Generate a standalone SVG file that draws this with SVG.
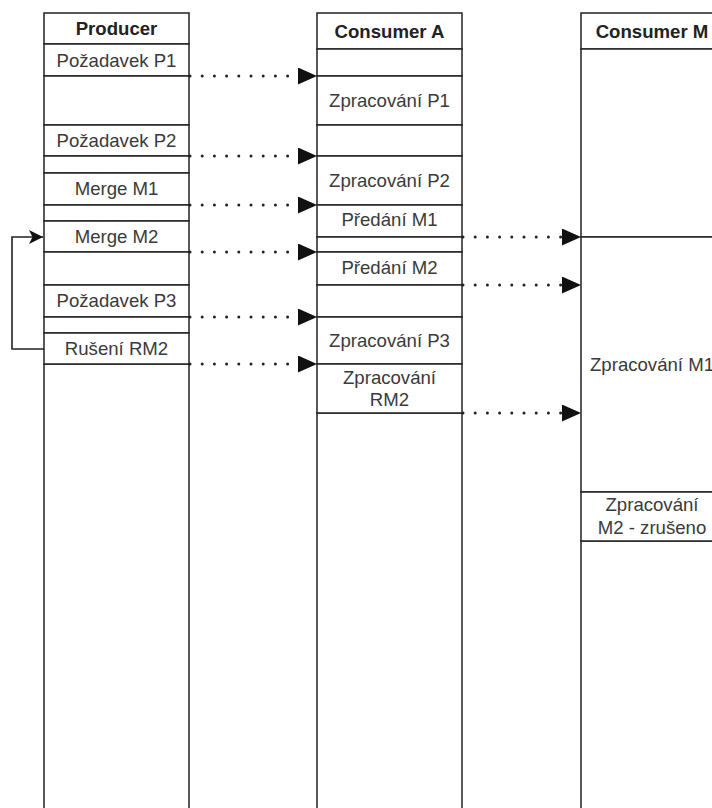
<svg xmlns="http://www.w3.org/2000/svg" width="712" height="808" viewBox="0 0 712 808">
  <style>
    .box { fill: #ffffff; stroke: #222222; stroke-width: 1.5; }
    .lbl { font-family: "Liberation Sans", Arial, sans-serif; font-size: 18.6px; fill: #3a3a3a; text-anchor: middle; }
    .hdr { font-weight: bold; fill: #222222; }
    .msg { fill: none; stroke: #222222; stroke-width: 3; stroke-linecap: round; stroke-dasharray: 0 12.2; }
    .loop { fill: none; stroke: #222222; stroke-width: 1.6; }
  </style>
  <defs>
    <marker id="tri" markerUnits="userSpaceOnUse" viewBox="0 0 19 17" refX="19" refY="8.5" markerWidth="19" markerHeight="17" orient="auto">
      <path d="M0,0 L19,8.5 L0,17 Z" fill="#111111"/>
    </marker>
    <marker id="classic" markerUnits="userSpaceOnUse" viewBox="0 0 15 14" refX="14" refY="7" markerWidth="15" markerHeight="14" orient="auto">
      <path d="M0,0 L14,7 L0,14 L3.5,7 Z" fill="#111111"/>
    </marker>
  </defs>
  <rect width="712" height="808" fill="#ffffff"/>

  <!-- Producer lane -->
  <g id="producer">
    <rect class="box" x="44" y="364" width="145" height="460"/>
    <rect class="box" x="44" y="13" width="145" height="31"/>
    <rect class="box" x="44" y="44" width="145" height="32"/>
    <rect class="box" x="44" y="76" width="145" height="49"/>
    <rect class="box" x="44" y="125" width="145" height="31"/>
    <rect class="box" x="44" y="156" width="145" height="17"/>
    <rect class="box" x="44" y="173" width="145" height="32"/>
    <rect class="box" x="44" y="205" width="145" height="16"/>
    <rect class="box" x="44" y="221" width="145" height="31"/>
    <rect class="box" x="44" y="252" width="145" height="33"/>
    <rect class="box" x="44" y="285" width="145" height="32"/>
    <rect class="box" x="44" y="317" width="145" height="16"/>
    <rect class="box" x="44" y="333" width="145" height="31"/>
    <text class="lbl hdr" x="116.5" y="35">Producer</text>
    <text class="lbl" x="116.5" y="66.5">Požadavek P1</text>
    <text class="lbl" x="116.5" y="147">Požadavek P2</text>
    <text class="lbl" x="116.5" y="195">Merge M1</text>
    <text class="lbl" x="116.5" y="242.5">Merge M2</text>
    <text class="lbl" x="116.5" y="307">Požadavek P3</text>
    <text class="lbl" x="116.5" y="354.5">Rušení RM2</text>
  </g>

  <!-- Consumer A lane -->
  <g id="consumer-a">
    <rect class="box" x="317" y="413" width="145" height="411"/>
    <rect class="box" x="317" y="13" width="145" height="36"/>
    <rect class="box" x="317" y="49" width="145" height="27"/>
    <rect class="box" x="317" y="76" width="145" height="49"/>
    <rect class="box" x="317" y="125" width="145" height="31"/>
    <rect class="box" x="317" y="156" width="145" height="49"/>
    <rect class="box" x="317" y="205" width="145" height="32"/>
    <rect class="box" x="317" y="237" width="145" height="15"/>
    <rect class="box" x="317" y="252" width="145" height="33"/>
    <rect class="box" x="317" y="285" width="145" height="32"/>
    <rect class="box" x="317" y="317" width="145" height="47"/>
    <rect class="box" x="317" y="364" width="145" height="49"/>
    <text class="lbl hdr" x="389.5" y="37.5">Consumer A</text>
    <text class="lbl" x="389.5" y="107">Zpracování P1</text>
    <text class="lbl" x="389.5" y="187">Zpracování P2</text>
    <text class="lbl" x="389.5" y="226">Předání M1</text>
    <text class="lbl" x="389.5" y="273.5">Předání M2</text>
    <text class="lbl" x="389.5" y="347">Zpracování P3</text>
    <text class="lbl" x="389.5" y="384">Zpracování</text>
    <text class="lbl" x="389.5" y="406">RM2</text>
  </g>

  <!-- Consumer M lane -->
  <g id="consumer-m">
    <rect class="box" x="581" y="541" width="145" height="283"/>
    <rect class="box" x="581" y="13" width="145" height="36"/>
    <rect class="box" x="581" y="49" width="145" height="188"/>
    <rect class="box" x="581" y="237" width="145" height="255"/>
    <rect class="box" x="581" y="492" width="145" height="49"/>
    <text class="lbl hdr" x="652" y="37.5">Consumer M</text>
    <text class="lbl" x="652" y="371">Zpracování M1</text>
    <text class="lbl" x="652" y="511">Zpracování</text>
    <text class="lbl" x="652" y="534">M2 - zrušeno</text>
  </g>

  <!-- Messages between lanes -->
  <g id="connectors">
    <path class="msg" d="M190,76 H317" marker-end="url(#tri)"/>
    <path class="msg" d="M190,156 H317" marker-end="url(#tri)"/>
    <path class="msg" d="M190,205 H317" marker-end="url(#tri)"/>
    <path class="msg" d="M190,252 H317" marker-end="url(#tri)"/>
    <path class="msg" d="M190,317 H317" marker-end="url(#tri)"/>
    <path class="msg" d="M190,364 H317" marker-end="url(#tri)"/>
    <path class="msg" d="M463,237 H581" marker-end="url(#tri)"/>
    <path class="msg" d="M463,285 H581" marker-end="url(#tri)"/>
    <path class="msg" d="M463,413 H581" marker-end="url(#tri)"/>
    <path class="loop" d="M44,349 H12 V237 H43" marker-end="url(#classic)"/>
  </g>
</svg>
